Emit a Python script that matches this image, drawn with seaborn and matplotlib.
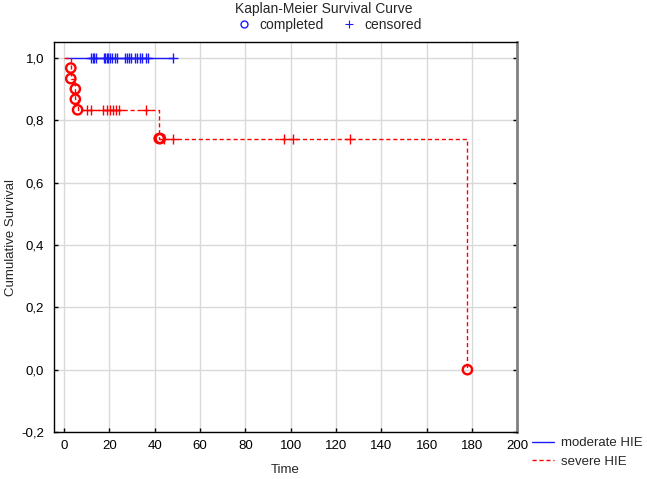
import numpy as np
import pandas as pd
import seaborn as sns
import matplotlib
matplotlib.use("Agg")
import matplotlib.pyplot as plt
from matplotlib.lines import Line2D
from matplotlib.ticker import FuncFormatter

# step curves (time, cumulative survival)
mod_time = [1, 48]
mod_surv = [1.0, 1.0]
sev_time = [0, 3, 3, 5, 5, 6, 42, 178]
sev_surv = [1.0, 0.967, 0.933, 0.900, 0.867, 0.833, 0.741, 0.0]

# completed (event) points, severe group
sev_evt_time = [3, 3, 5, 5, 6, 42, 42.5, 178]
sev_evt_surv = [0.967, 0.933, 0.900, 0.867, 0.833, 0.741, 0.741, 0.0]

# censored points
mod_cen_time = [12, 12.7, 13.3, 14, 17.5, 18.1, 18.9, 19.6, 20.3, 21.3, 22.4, 23.2,
                27, 27.7, 28.7, 29.7, 31.3, 32.3, 33.6, 34.6, 36.3, 37.2, 48]
sev_cen_time = [10, 11.7, 17, 18.8, 20.3, 21.8, 23, 24.4, 36, 44, 48, 97, 101, 126]
sev_cen_surv = [0.833] * 9 + [0.741] * 5

sns.set_style("whitegrid", {"grid.color": "#d9d9d9", "axes.edgecolor": "black"})
plt.rcParams['font.family'] = ['Liberation Sans', 'DejaVu Sans']
plt.rcParams['font.size'] = 9.5

fig = plt.figure(figsize=(6.47, 4.79), dpi=100)
ax = fig.add_axes([0.0835, 0.098, 0.716, 0.814])

blue = "#1a1aff"
red = "#ff0000"

sns.lineplot(x=mod_time, y=mod_surv, ax=ax, color=blue, lw=1, sort=False,
             estimator=None, drawstyle="steps-post")
sns.lineplot(x=sev_time, y=sev_surv, ax=ax, color=red, lw=1, sort=False,
             estimator=None, drawstyle="steps-post", dashes=False, linestyle=(0, (3, 2)))

sns.scatterplot(x=mod_cen_time, y=[1.0] * len(mod_cen_time), ax=ax, marker="+",
                color=blue, s=45, linewidth=1, zorder=4)
sns.scatterplot(x=sev_cen_time, y=sev_cen_surv, ax=ax, marker="+",
                color=red, s=45, linewidth=1, zorder=4)
sns.scatterplot(x=sev_evt_time, y=sev_evt_surv, ax=ax, marker="o",
                facecolor="none", edgecolor=red, s=45, linewidth=1.7, zorder=5)

ax.set_xlim(-4.4, 200)
ax.set_ylim(-0.2, 1.05)
ax.set_xticks(np.arange(0, 201, 20))
ax.set_yticks(np.arange(-0.2, 1.01, 0.2))
ax.yaxis.set_major_formatter(FuncFormatter(lambda v, p: f"{v:.1f}".replace(".", ",").replace("-0,0", "0,0")))
ax.tick_params(direction="in", length=3, width=1, colors="black", labelsize=9.5,
               top=False, right=True, left=True, bottom=True)
ax.tick_params(axis="y", pad=7)
ax.tick_params(axis="x", pad=6)
ax.grid(True, color="#d9d9d9", lw=1)
for s in ["left", "bottom", "top"]:
    ax.spines[s].set_color("black")
    ax.spines[s].set_linewidth(1)
ax.spines["right"].set_color("#808080")
ax.spines["right"].set_linewidth(2)

ax.set_xlabel("Time", fontsize=9.5, labelpad=8)
ax.set_ylabel("Cumulative Survival", fontsize=9.5, labelpad=3.5)

fig.text(0.5, 0.981, "Kaplan-Meier Survival Curve", ha="center", va="center", fontsize=10)

top_handles = [Line2D([], [], ls="none", marker="o", mfc="none", mec=blue, ms=5, mew=1),
               Line2D([], [], ls="none", marker="+", color=blue, ms=6, mew=0.8)]
fig.legend(top_handles, ["completed", "censored"], loc="center", bbox_to_anchor=(0.508, 0.948),
           ncol=2, frameon=False, fontsize=10, handlelength=1.2, handletextpad=0.5,
           columnspacing=1.2)

side_handles = [Line2D([], [], color=blue, lw=1),
                Line2D([], [], color=red, lw=1, ls=(0, (3, 2)))]
fig.legend(side_handles, ["moderate HIE", "severe HIE"], loc="upper left",
           bbox_to_anchor=(0.812, 0.101), frameon=False, fontsize=9.5,
           handlelength=1.7, handletextpad=0.5, labelspacing=0.45, borderpad=0)

fig.savefig("out.png", dpi=100)
